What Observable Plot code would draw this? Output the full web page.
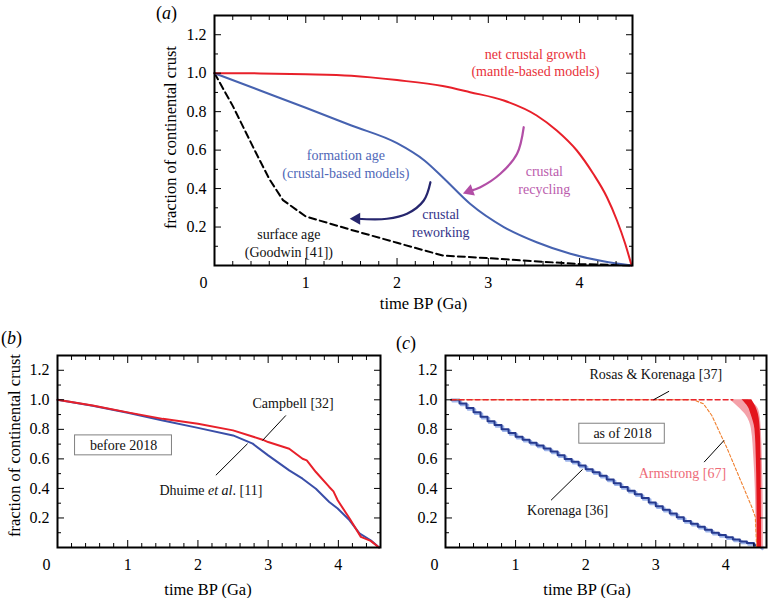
<!DOCTYPE html>
<html><head><meta charset="utf-8">
<script src="https://cdn.jsdelivr.net/npm/d3@7"></script>
<script src="https://cdn.jsdelivr.net/npm/@observablehq/plot@0.6"></script>
<style>
body{margin:0;background:#fff;}
#root{position:relative;width:768px;height:598px;overflow:hidden;background:#fff;font-family:'Liberation Serif','Times New Roman',serif;}
.panel{position:absolute;}
.tag{position:absolute;font-size:18px;line-height:18px;color:#000;font-family:'Liberation Serif','Times New Roman',serif;}
</style></head><body><div id="root"></div>
<script>
// ---------- axis tick values ----------
const yMajor = [0.2, 0.4, 0.6, 0.8, 1.0, 1.2];
const yMinor = [0.1, 0.3, 0.5, 0.7, 0.9, 1.1];
const xMajor = [1, 2, 3, 4];
const xMinor = [0.2, 0.4, 0.6, 0.8, 1.2, 1.4, 1.6, 1.8, 2.2, 2.4, 2.6, 2.8, 3.2, 3.4, 3.6, 3.8, 4.2, 4.4];
const xOrigin = [0];
const yLabel = "fraction of continental crust";
const xLabel = "time BP (Ga)";

// ---------- panel (a) ----------
const timeA_growth = [0, 0.5, 1.0, 1.5, 2.0, 2.5, 2.8, 3.17, 3.53, 3.75, 3.97, 4.15, 4.30, 4.41, 4.50, 4.57];
const fracA_growth = [1.0, 0.999, 0.995, 0.987, 0.964, 0.933, 0.901, 0.858, 0.78, 0.702, 0.598, 0.477, 0.355, 0.234, 0.113, 0.0];
const timeA_formation = [0, 0.5, 1.0, 1.5, 2.0, 2.3, 2.5, 2.8, 3.17, 3.53, 3.9, 4.26, 4.57];
const fracA_formation = [1.0, 0.91, 0.82, 0.728, 0.636, 0.546, 0.459, 0.321, 0.2, 0.121, 0.061, 0.022, 0.0];
const timeA_surface = [0, 0.2, 0.45, 0.6, 0.75, 1.0, 1.5, 2.0, 2.5, 3.0, 3.5, 4.0, 4.57];
const fracA_surface = [1.0, 0.83, 0.59, 0.45, 0.34, 0.255, 0.185, 0.118, 0.052, 0.038, 0.022, 0.008, 0.0];
const recyclingArc_t = [3.388, 3.315, 3.132, 2.913, 2.794];
const recyclingArc_v = [0.719, 0.581, 0.477, 0.407, 0.387];
const reworkingArc_t = [2.366, 2.293, 2.11, 1.89, 1.56];
const reworkingArc_v = [0.433, 0.338, 0.269, 0.243, 0.243];
const arrowHeadsA = [
  {t: 2.794, v: 0.387, angle: -110, color: "#b24ea6"},
  {t: 1.558, v: 0.243, angle: -90, color: "#26266e"}
];
const labelsA = [
  {t: 3.516, v: 1.06, text: "net crustal growth\n(mantle-based models)", color: "#e8323a"},
  {t: 1.44, v: 0.53, text: "formation age\n(crustal-based models)", color: "#4f68b8"},
  {t: 3.614, v: 0.448, text: "crustal\nrecycling", color: "#bb5cad"},
  {t: 2.48, v: 0.225, text: "crustal\nreworking", color: "#34348a"},
  {t: 0.815, v: 0.12, text: "surface age\n(Goodwin [41])", color: "#111"}
];

// ---------- panel (b) ----------
const timeB_dhuime = [0, 0.5, 1.0, 1.5, 2.0, 2.5, 2.78, 3.0, 3.3, 3.49, 3.68, 3.87, 3.99, 4.16, 4.3, 4.46, 4.58];
const fracB_dhuime = [1.0, 0.96, 0.912, 0.86, 0.81, 0.759, 0.703, 0.624, 0.522, 0.466, 0.398, 0.308, 0.264, 0.184, 0.095, 0.049, 0.0];
const timeB_campbell = [0, 0.5, 1.0, 1.5, 2.0, 2.5, 2.92, 3.0, 3.3, 3.49, 3.55, 3.68, 3.87, 3.93, 3.99, 4.16, 4.32, 4.46, 4.58];
const fracB_campbell = [1.0, 0.961, 0.915, 0.871, 0.838, 0.793, 0.73, 0.714, 0.669, 0.601, 0.59, 0.511, 0.41, 0.38, 0.32, 0.196, 0.072, 0.045, 0.0];
const boxB = [{t1: 0.25, t2: 1.63, v1: 0.624, v2: 0.759}];
const labelsB = [
  {t: 3.356, v: 0.973, text: "Campbell [32]"},
  {t: 0.94, v: 0.691, text: "before 2018"},
  {t: 2.184, v: 0.387, text: "Dhuime et al. [11]"}
];
const leadersB = [
  {t1: 3.252, v1: 0.894, t2: 2.92, v2: 0.725},
  {t1: 2.707, v1: 0.703, t2: 2.255, v2: 0.489}
];

// ---------- panel (c) ----------
const timeC_korenaga = [0.08, 0.2, 0.3, 0.4, 0.5, 0.6, 0.7, 0.8, 0.9, 1.0, 1.1, 1.2, 1.3, 1.4, 1.5, 1.6, 1.7, 1.8, 1.9, 2.0, 2.1, 2.2, 2.3, 2.4, 2.5, 2.6, 2.7, 2.8, 2.9, 3.0, 3.1, 3.2, 3.3, 3.4, 3.5, 3.6, 3.7, 3.8, 3.9, 4.0, 4.1, 4.2, 4.3, 4.4, 4.5];
const fracC_korenaga = [1.0, 0.975, 0.945, 0.915, 0.885, 0.855, 0.83, 0.8, 0.775, 0.75, 0.73, 0.71, 0.69, 0.67, 0.65, 0.625, 0.6, 0.58, 0.555, 0.53, 0.51, 0.485, 0.46, 0.435, 0.41, 0.385, 0.36, 0.335, 0.305, 0.28, 0.255, 0.23, 0.205, 0.18, 0.16, 0.14, 0.12, 0.1, 0.085, 0.07, 0.055, 0.04, 0.03, 0.015, 0.0];
const timeC_armstrong = [0.08, 3.54, 3.68, 3.8, 3.92, 4.01, 4.13, 4.27, 4.37, 4.42, 4.44];
const fracC_armstrong = [1.0, 1.0, 0.973, 0.894, 0.77, 0.68, 0.545, 0.387, 0.274, 0.207, 0.0];
const timeC_rosasFlat = [0.08, 4.1];
const fracC_rosasFlat = [1.0, 1.0];
const bandLevels = [1.0, 0.95, 0.9, 0.8, 0.6, 0.4, 0.2, 0.0];
const bandOuterLeft = [4.06, 4.18, 4.28, 4.365, 4.40, 4.42, 4.43, 4.44];
const bandInnerLeft = [4.23, 4.32, 4.36, 4.415, 4.435, 4.443, 4.447, 4.45];
const bandInnerRight = [4.37, 4.43, 4.465, 4.49, 4.502, 4.505, 4.508, 4.51];
const bandOuterRight = [4.32, 4.45, 4.485, 4.505, 4.52, 4.53, 4.533, 4.535];
const boxC = [{t1: 1.909, t2: 3.129, v1: 0.703, v2: 0.838}];
const labelsC = [
  {t: 3.0, v: 1.171, text: "Rosas & Korenaga [37]", color: "#111"},
  {t: 2.526, v: 0.77, text: "as of 2018", color: "#111"},
  {t: 3.38, v: 0.5, text: "Armstrong [67]", color: "#ee6b78"},
  {t: 1.743, v: 0.252, text: "Korenaga [36]", color: "#111"}
];
const leadersC = [
  {t1: 3.19, v1: 1.058, t2: 2.967, v2: 1.0},
  {t1: 3.69, v1: 0.578, t2: 3.974, v2: 0.725},
  {t1: 1.506, v1: 0.32, t2: 1.956, v2: 0.529}
];

// ---------- helpers ----------
const zip = (ts, vs) => ts.map((t, i) => ({t, v: vs[i]}));
const band = (a, b) => bandLevels.map((v, i) => ({v, a: a[i], b: b[i]}));
const FONT = "'Liberation Serif','Times New Roman',serif";

function frameMarks(opts) {
  const m = [
    Plot.axisY(yMinor, {anchor: "left", tickSize: -4, fill: "none", label: null}),
    Plot.axisY(yMajor, {anchor: "left", tickSize: -7, fill: "none", label: null}),
    Plot.axisY(yMinor, {anchor: "right", tickSize: -4, fill: "none", label: null}),
    Plot.axisY(yMajor, {anchor: "right", tickSize: -7, fill: "none", label: null}),
    Plot.axisX(xMinor, {anchor: "bottom", tickSize: -4, fill: "none", label: null}),
    Plot.axisX(xMajor, {anchor: "bottom", tickSize: -7, fill: "none", label: null}),
    Plot.axisX(xMinor, {anchor: "top", tickSize: -4, fill: "none", label: null}),
    Plot.axisX(xMajor, {anchor: "top", tickSize: -7, fill: "none", label: null}),
    Plot.axisY(yMajor, {anchor: "left", tickSize: 0, tickPadding: 8, tickFormat: d3.format(".1f"), label: null, fontSize: 16}),
    Plot.axisX(xMajor, {anchor: "bottom", tickSize: 0, tickPadding: 11, tickFormat: d => String(d), label: null, fontSize: 16}),
    Plot.text(xOrigin, {x: d => d, text: d => String(d), frameAnchor: "bottom", lineAnchor: "top", dy: 11, dx: -11, fontSize: 16}),
    Plot.text([xLabel], {text: d => d, frameAnchor: "bottom", textAnchor: "middle", lineAnchor: "middle", dy: opts.xLabelDy, dx: opts.xLabelDx, fontSize: 16.5}),
    Plot.frame({stroke: "#000", strokeWidth: 2})
  ];
  if (opts.yLabel) m.push(Plot.text([yLabel], {text: d => d, frameAnchor: "left", textAnchor: "middle", lineAnchor: "middle", rotate: -90, dx: opts.yLabelDx, dy: opts.yLabelDy || 0, fontSize: 16.5}));
  return m;
}

function makePanel(opts, marks) {
  return Plot.plot({
    width: opts.width, height: opts.height,
    marginLeft: opts.ml, marginRight: opts.mr, marginTop: opts.mt, marginBottom: opts.mb,
    x: {domain: opts.xDomain},
    y: {domain: [0, 1.3]},
    style: {fontFamily: FONT, fontSize: "16px", background: "transparent", color: "#000", overflow: "visible"},
    marks: [...marks, ...frameMarks(opts)]
  });
}

function place(svg, left, top) {
  const d = document.createElement("div");
  d.className = "panel";
  d.style.left = left + "px";
  d.style.top = top + "px";
  d.appendChild(svg);
  document.getElementById("root").appendChild(d);
}
function tag(letter, left, top) {
  const d = document.createElement("div");
  d.className = "tag";
  d.style.left = left + "px";
  d.style.top = top + "px";
  d.innerHTML = "(<i>" + letter + "</i>)";
  document.getElementById("root").appendChild(d);
}

// ---------- panel (a) ----------
const marksA = [
  Plot.line(zip(timeA_surface, fracA_surface), {x: "t", y: "v", stroke: "#000", strokeWidth: 2, strokeDasharray: "7,4"}),
  Plot.line(zip(timeA_formation, fracA_formation), {x: "t", y: "v", stroke: "#4662b0", strokeWidth: 2, curve: "monotone-x"}),
  Plot.line(zip(timeA_growth, fracA_growth), {x: "t", y: "v", stroke: "#e8202a", strokeWidth: 2, curve: "monotone-x"}),
  Plot.line(zip(recyclingArc_t, recyclingArc_v), {x: "t", y: "v", stroke: "#b24ea6", strokeWidth: 2.2, curve: "catmull-rom"}),
  Plot.line(zip(reworkingArc_t, reworkingArc_v), {x: "t", y: "v", stroke: "#26266e", strokeWidth: 2.2, curve: "catmull-rom"}),
  ...arrowHeadsA.map(h => Plot.dot([h], {x: "t", y: "v", symbol: "triangle", r: 4.5, fill: h.color, stroke: "none", rotate: h.angle})),
  ...labelsA.map(l => Plot.text([l], {x: "t", y: "v", text: "text", fill: l.color, fontSize: 14, lineHeight: 1.25}))
];
place(makePanel({width: 510, height: 315, ml: 84, mr: 8, mt: 15, mb: 50, xDomain: [0, 4.58],
  xLabelDy: 38, xLabelDx: 0, yLabel: true, yLabelDx: -44, yLabelDy: -3}, marksA), 130, 0);

// ---------- panel (b) ----------
const marksB = [
  Plot.line(zip(timeB_dhuime, fracB_dhuime), {x: "t", y: "v", stroke: "#3a4ea8", strokeWidth: 2}),
  Plot.line(zip(timeB_campbell, fracB_campbell), {x: "t", y: "v", stroke: "#e8202a", strokeWidth: 2}),
  Plot.link(leadersB, {x1: "t1", y1: "v1", x2: "t2", y2: "v2", stroke: "#000", strokeWidth: 1}),
  Plot.rect(boxB, {x1: "t1", x2: "t2", y1: "v1", y2: "v2", fill: "#fff", stroke: "#808080", strokeWidth: 1}),
  Plot.text(labelsB, {x: "t", y: "v", text: "text", fill: "#111", fontSize: 14})
];
const svgB = makePanel({width: 384, height: 288, ml: 57, mr: 4, mt: 45, mb: 51, xDomain: [0, 4.6],
  xLabelDy: 42, xLabelDx: -11, yLabel: true, yLabelDx: -43, yLabelDy: -6}, marksB);
// italicise "et al."
svgB.querySelectorAll("text").forEach(el => {
  if (el.textContent === "Dhuime et al. [11]") {
    el.textContent = "";
    const NS = "http://www.w3.org/2000/svg";
    [["Dhuime ", null], ["et al", "italic"], [". [11]", null]].forEach(([s, st]) => {
      const ts = document.createElementNS(NS, "tspan");
      ts.textContent = s;
      if (st) ts.setAttribute("font-style", st);
      el.appendChild(ts);
    });
  }
});
place(svgB, 0, 310);

// ---------- panel (c) ----------
const marksC = [
  Plot.line(zip(timeC_korenaga, fracC_korenaga), {x: "t", y: "v", stroke: "#9db4ea", strokeWidth: 2.5, curve: "step-after", dx: 1.5, dy: 1.5}),
  Plot.line(zip(timeC_korenaga, fracC_korenaga), {x: "t", y: "v", stroke: "#263a8f", strokeWidth: 2, curve: "step-after"}),
  Plot.areaX(band(bandOuterLeft, bandOuterRight), {y: "v", x1: "a", x2: "b", fill: "#f4a1a9", curve: "monotone-y"}),
  Plot.areaX(band(bandInnerLeft, bandInnerRight), {y: "v", x1: "a", x2: "b", fill: "#e3141c", curve: "monotone-y"}),
  Plot.line(zip(timeC_armstrong, fracC_armstrong), {x: "t", y: "v", stroke: "#f08030", strokeWidth: 1.1, strokeDasharray: "3,2"}),
  Plot.line(zip(timeC_rosasFlat, fracC_rosasFlat), {x: "t", y: "v", stroke: "#e8262c", strokeWidth: 1.4, strokeDasharray: "5,3"}),
  Plot.link(leadersC, {x1: "t1", y1: "v1", x2: "t2", y2: "v2", stroke: "#000", strokeWidth: 1}),
  Plot.rect(boxC, {x1: "t1", x2: "t2", y1: "v1", y2: "v2", fill: "#fff", stroke: "#808080", strokeWidth: 1}),
  ...labelsC.map(l => Plot.text([l], {x: "t", y: "v", text: "text", fill: l.color, fontSize: 14}))
];
place(makePanel({width: 384, height: 288, ml: 61, mr: 2, mt: 45, mb: 51, xDomain: [0, 4.58],
  xLabelDy: 42, xLabelDx: -19, yLabel: false}, marksC), 384, 310);

tag("a", 156, 4);
tag("b", 1, 329);
tag("c", 396, 334);
</script></body></html>
